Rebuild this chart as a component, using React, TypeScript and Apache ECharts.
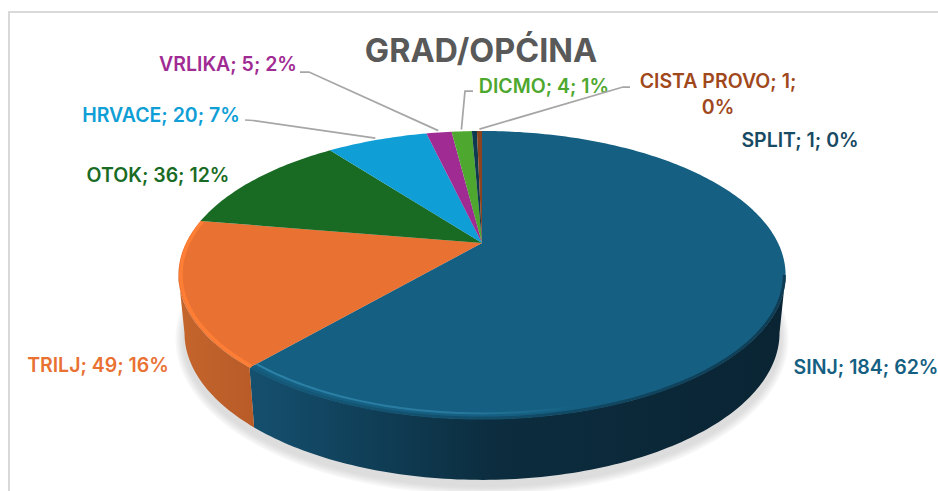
import React, { useEffect, useRef } from "react";
import * as echarts from "echarts";

// ---- data (clockwise from 12 o'clock)
const categories = ["SINJ", "TRILJ", "OTOK", "HRVACE", "VRLIKA", "DICMO", "SPLIT", "CISTA PROVO"];
const values = [184, 49, 36, 20, 5, 4, 1, 1];
const percents = [62, 16, 12, 7, 2, 1, 0, 0];
const chartTitle = "GRAD/OPĆINA";

// ---- styles
const sliceColors = ["#156082", "#E97132", "#196B24", "#0F9ED5", "#A02B93", "#4EA72E", "#0D3A4E", "#8C441E"];
const labelColors = ["#156082", "#E97132", "#196B24", "#0F9ED5", "#A02B93", "#4EA72E", "#174A63", "#A0481C"];
const FONT = "Inter, 'Noto Sans', sans-serif";

// ---- label layout: anchor centre of each text
const labelCenters: [number, number][] = [
  [866, 367], [98, 365], [158, 175], [161, 115], [228, 64], [544, 86], [800, 140], [718, 94],
];
// leader elbows: [label-side start, elbow]; null = no leader line
const leaderElbows: ([number, number][] | null)[] = [
  null, null, null,
  [[245, 120], [253, 120.5]],
  [[300, 72], [309, 72]],
  [[473, 91], [465, 91]],
  null,
  [[630, 87], [623, 87]],
];
const labelTexts = categories.map((c, i) =>
  c === "CISTA PROVO" ? `${c}; ${values[i]};\n${percents[i]}%` : `${c}; ${values[i]}; ${percents[i]}%`
);

// ---- projective 3D pie geometry: apex, near/far extents
const apex = { x: 482, y: 243 };
const persp = 0.2222;
const depth = 136.9;
const spread = 296;
const ellipseCy = 275;
const wallDrop = 58;
const wallRx = 0.98;
const wallRy = 1.02;
const tangent = (Math.acos(-persp) * 180) / Math.PI;

const total = values.reduce((a, b) => a + b, 0);
const cum = values.reduce<number[]>((acc, v) => [...acc, acc[acc.length - 1] + v], [0]);

function rim(deg: number, r = 1): [number, number] {
  const t = (deg * Math.PI) / 180;
  const X = r * Math.sin(t);
  const Y = r * Math.cos(t);
  const w = 1 + persp * Y;
  return [apex.x + (spread * X) / w, apex.y - (depth * Y) / w];
}
function floor(deg: number): [number, number] {
  const [x, y] = rim(deg);
  return [apex.x + (x - apex.x) * wallRx, ellipseCy + (y - ellipseCy) * wallRy + wallDrop];
}
function arc(a: number, b: number, f: (d: number) => [number, number]) {
  const pts: [number, number][] = [];
  const n = Math.max(2, Math.ceil(Math.abs(b - a)));
  for (let i = 0; i <= n; i++) pts.push(f(a + ((b - a) * i) / n));
  return pts;
}

const wallFills: Record<number, any> = {
  0: new echarts.graphic.LinearGradient(0, 0, 1, 0, [
    { offset: 0, color: "#15506F" },
    { offset: 0.22, color: "#103F58" },
    { offset: 0.45, color: "#0C2D3F" },
    { offset: 1, color: "#0A2433" },
  ]),
  1: new echarts.graphic.LinearGradient(0, 0, 1, 0, [
    { offset: 0, color: "#C4652C" },
    { offset: 1, color: "#B85B27" },
  ]),
};
const softEdge = new echarts.graphic.LinearGradient(0, 0, 1, 0, [
  { offset: 0, color: "#155A7A" },
  { offset: 0.5, color: "#124C68" },
  { offset: 1, color: "#0F3C54" },
]);
const highlight = new echarts.graphic.LinearGradient(0, 0, 1, 0, [
  { offset: 0, color: "#2F86AC" },
  { offset: 0.6, color: "#2A7CA2" },
  { offset: 1, color: "#156082" },
]);
// soft drop shadow, widest and palest first
const shadowLayers: [number, string][] = [
  [18, "#F8F8F8"], [15, "#F2F2F2"], [12, "#ECECEC"], [9, "#E6E6E6"], [6, "#E1E1E1"], [3, "#DDDDDD"],
];

function renderItem(params: any, api: any) {
  const i = params.dataIndex;
  const start = (cum[i] / total) * 360;
  const end = start + (api.value(0) / total) * 360;
  const children: any[] = [];

  if (i === 0) {
    const outline = arc(0, 360, floor);
    shadowLayers.forEach(([w, c]) => {
      children.push({
        type: "polygon",
        y: 6,
        shape: { points: outline },
        style: { fill: c, stroke: c, lineWidth: w, lineJoin: "round" },
      });
    });
  }
  // wall on near side
  const wa = Math.max(start, tangent);
  const wb = Math.min(end, 360 - tangent);
  if (wb > wa) {
    children.push({
      type: "polygon",
      shape: { points: [...arc(wa, wb, rim), ...arc(wb, wa, floor)] },
      style: { fill: wallFills[i] },
    });
  }
  // top face
  children.push({
    type: "polygon",
    shape: { points: [[apex.x, apex.y], ...arc(start, end, rim)] },
    style: { fill: sliceColors[i] },
  });
  // bevel on the near rim
  if (i === 0) {
    children.push({
      type: "polyline",
      shape: { points: arc(tangent, end, (d) => rim(d, 0.996)) },
      style: { stroke: softEdge, lineWidth: 3, fill: "none" },
    });
    children.push({
      type: "polyline",
      shape: { points: arc(165, end, (d) => rim(d, 0.975)) },
      style: { stroke: highlight, lineWidth: 2, fill: "none", opacity: 0.9 },
    });
  }
  if (i === 1) {
    children.push({
      type: "polyline",
      shape: { points: arc(start, end, (d) => rim(d, 0.992)) },
      style: { stroke: "#FF7E35", lineWidth: 3.5, fill: "none" },
    });
  }
  // leader line
  const elbow = leaderElbows[i];
  if (elbow) {
    const mid = (start + end) / 2;
    children.push({
      type: "polyline",
      shape: { points: [...elbow, rim(mid, 1.02)] },
      style: { stroke: "#A6A6A6", lineWidth: 1.75, fill: "none" },
    });
  }
  // label
  children.push({
    type: "text",
    x: labelCenters[i][0],
    y: labelCenters[i][1],
    style: {
      text: labelTexts[i],
      fill: labelColors[i],
      font: `600 19.5px ${FONT}`,
      align: "center",
      verticalAlign: "middle",
      lineHeight: 26,
    },
  });
  return { type: "group", children };
}

export default function App() {
  const ref = useRef<HTMLDivElement>(null);
  useEffect(() => {
    const chart = echarts.init(ref.current!, undefined, { renderer: "svg" });
    chart.setOption({
      animation: false,
      backgroundColor: "#ffffff",
      title: {
        text: chartTitle,
        left: 476,
        top: 29,
        textAlign: "center",
        textStyle: { color: "#595959", fontFamily: FONT, fontWeight: 700, fontSize: 32.4 },
      },
      graphic: [
        { type: "line", shape: { x1: 9, y1: 12, x2: 938, y2: 12 }, style: { stroke: "#D9D9D9", lineWidth: 2 } },
        { type: "line", shape: { x1: 9, y1: 11, x2: 9, y2: 491 }, style: { stroke: "#D9D9D9", lineWidth: 2 } },
      ],
      series: [
        {
          type: "custom",
          coordinateSystem: "none",
          renderItem,
          silent: true,
          data: values.map((v) => [v]),
        },
      ],
    });
    return () => chart.dispose();
  }, []);
  return <div ref={ref} style={{ position: "fixed", left: 0, top: 0, width: 938, height: 491 }} />;
}
